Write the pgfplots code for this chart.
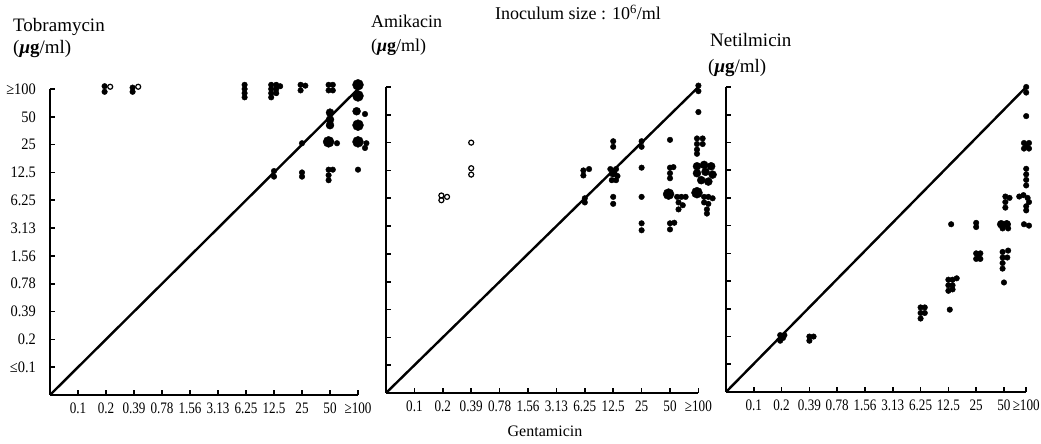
\documentclass[border=0pt]{standalone}
\usepackage{fontspec}
\setmainfont{Liberation Serif}
\usepackage{pgfplots}
\pgfplotsset{compat=1.18}

% narrow tick labels, as in the scanned figure
\newcommand{\tl}[1]{\scalebox{0.82}[1]{#1}}
\newcommand{\yl}[1]{\scalebox{0.9}[1]{#1}}
\newcommand{\ug}{(\textbf{\textit{μ}g}/ml)}

\pgfplotsset{
  mic/.style={
    scale only axis, anchor=south west,
    xmin=0, ymin=0, ymax=11,
    axis x line*=bottom, axis y line*=left,
    axis line style={line width=2.3pt},
    tick align=inside, major tick length=5pt,
    tick style={line width=1.6pt, black},
    ytick={1,...,11},
    xticklabel style={font=\fontsize{16}{16}\selectfont, anchor=north, inner sep=0pt, yshift=-8pt},
    yticklabel=\empty,
    clip=false,
  },
  diag/.style={black, line width=2.4pt, no marks},
  dot/.style={only marks, mark=*, mark size=2.8pt, black, mark options={fill=black}},
  mid/.style={only marks, mark=*, mark size=4pt, black, mark options={fill=black}},
  big/.style={only marks, mark=*, mark size=5.5pt, black, mark options={fill=black}},
  ring/.style={only marks, mark=o, mark size=2.5pt, black, mark options={line width=1.2pt}},
}

\begin{document}
\begin{tikzpicture}
\useasboundingbox (0,0) rectangle (1041pt,444pt);

% ---------- Tobramycin ----------
\begin{axis}[mic, at={(50pt,49pt)}, width=308pt, height=306pt, xmax=11,
  xtick={1,...,11},
  xticklabels={\tl{0.1},\tl{0.2},\tl{0.39},\tl{0.78},\tl{1.56},\tl{3.13},\tl{6.25},\tl{12.5},\tl{25},\tl{50},\tl{≥100}},
  yticklabels={\yl{≤0.1},\yl{0.2},\yl{0.39},\yl{0.78},\yl{1.56},\yl{3.13},\yl{6.25},\yl{12.5},\yl{25},\yl{50},\yl{≥100}},
  yticklabel style={font=\fontsize{16}{16}\selectfont, anchor=east, inner sep=0pt, xshift=-14pt},
]
\addplot[diag] coordinates {(0,0) (11,11)};
\addplot[dot] coordinates {
  (1.95,11.1) (1.95,10.9) (2.95,11.05) (2.95,10.9)
  (6.95,11.15) (6.95,11.0) (6.95,10.85) (6.95,10.7)
  (7.9,11.15) (7.9,11.0) (7.9,10.85) (7.9,10.7) (8.08,11.15) (8.08,11.0) (8.08,10.85) (8.22,11.1)
  (8.95,11.15) (8.95,10.95) (9.12,11.12)
  (9.95,11.15) (10.1,11.15) (9.95,10.95) (10.1,10.95)
  (9,9.05) (10.25,9.05) (11.3,9.05) (11.25,8.88)
  (8,8.05) (8,7.85) (9,8.0) (9,7.85)
  (9.95,8.1) (10.1,8.1) (9.95,7.9) (9.95,7.72) (11,8.1)
  (11.25,10.1)
};
\addplot[mid] coordinates {(10,10.15) (10,9.9) (10,9.7) (10.95,10.2)};
\addplot[big] coordinates {(11,11.15) (11,10.75) (11,9.7) (9.95,9.1) (11,9.1)};
\addplot[ring] coordinates {(2.15,11.08) (3.15,11.08)};
\end{axis}

% ---------- Amikacin ----------
\begin{axis}[mic, at={(386pt,51pt)}, width=312.4pt, height=306pt, xmax=11,
  xtick={1,...,11},
  xticklabels={\tl{0.1},\tl{0.2},\tl{0.39},\tl{0.78},\tl{1.56},\tl{3.13},\tl{6.25},\tl{12.5},\tl{25},\tl{50},\tl{≥100}},
]
\addplot[diag] coordinates {(0,0) (11,11)};
\addplot[dot] coordinates {
  (11,11.05) (11,10.85) (11,10.1)
  (8,9.05) (8,8.85) (9,9.05) (9,8.85) (10,9.1)
  (10.95,9.15) (11.15,9.15) (10.95,8.95) (11.15,8.95) (10.95,8.75) (10.95,8.6)
  (6.95,8.0) (7.15,8.05) (6.95,7.82)
  (7.9,8.05) (8.1,8.05) (8.15,7.8) (7.95,7.65) (8.1,7.65)
  (9,8.1) (10,8.1) (10,7.9) (10.12,8.12) (10,7.72)
  (7,7.0) (7,6.85) (8,7.05) (8,6.8) (9,7.05)
  (9,6.1) (9,5.85) (10,6.1) (10.15,6.12) (10,5.88)
  (10.25,7.05) (10.4,7.05) (10.55,7.05) (10.3,6.85) (10.45,6.75) (10.3,6.6)
  (11.2,7.05) (11.35,7.05) (11.5,7.0) (11.2,6.85) (11.35,6.8) (11.3,6.6) (11.3,6.45)
};
\addplot[mid] coordinates {
  (8.0,7.9)
  (10.95,8.15) (11.2,8.2) (11.45,8.15) (10.95,7.9) (11.25,7.95) (11.5,7.85) (11.1,7.65) (11.35,7.6)
};
\addplot[big] coordinates {(9.95,7.15) (10.95,7.2)};
\addplot[ring] coordinates {(3,9) (3,8.08) (3,7.85) (1.95,7.1) (1.95,6.93) (2.15,7.05)};
\end{axis}

% ---------- Netilmicin ----------
\begin{axis}[mic, at={(726pt,52pt)}, width=300.2pt, height=305pt, xmax=10.8,
  xtick={1,2,3,4,5,6,7,8,9,10,10.8},
  xticklabels={\tl{0.1},\tl{0.2},\tl{0.39},\tl{0.78},\tl{1.56},\tl{3.13},\tl{6.25},\tl{12.5},\tl{25},\tl{50},\tl{≥100}},
]
\addplot[diag] coordinates {(0,0) (10.8,11)};
\addplot[dot] coordinates {
  (10.8,11.0) (10.8,10.8) (10.8,9.95)
  (10.72,8.98) (10.9,8.98) (10.72,8.78) (10.9,8.78) (10.81,8.88)
  (10.8,8.05) (10.8,7.85) (10.8,7.65) (10.8,7.45)
  (10.05,7.05) (10.05,6.85) (10.05,6.65) (10.2,7.0)
  (10.55,7.05) (10.7,7.1) (10.85,7.0) (10.9,6.85) (10.8,6.7) (10.8,6.55)
  (8.1,6.05) (9,6.1) (9,5.95)
  (9.95,5.9) (10.15,5.9) (10.72,6.05) (10.9,6.0)
  (9.0,5.0) (9.15,5.0) (9.0,4.8) (9.15,4.8) (9.08,4.9)
  (9.95,5.05) (10.15,5.1) (9.95,4.85) (10.12,4.85) (9.95,4.65) (9.95,4.45)
  (10,3.95)
  (8.0,4.05) (8.15,4.05) (8.3,4.1) (8.0,3.85) (8.15,3.85) (8.0,3.65) (8.15,3.7)
  (8.05,2.97)
  (7.0,3.05) (7.15,3.05) (7.0,2.85) (7.15,2.85) (7.0,2.65)
  (1.95,2.05) (2.1,2.05) (1.95,1.85) (2.05,1.95)
  (3.0,2.0) (3.15,2.0) (3.0,1.85)
};
\addplot[mid] coordinates {(9.9,6.05) (10.1,6.05)};
\end{axis}

% ---------- titles ----------
\node[anchor=base west, inner sep=0pt, font=\fontsize{19}{19}\selectfont] at (13pt,412pt) {Tobramycin};
\node[anchor=base west, inner sep=0pt, font=\fontsize{19}{19}\selectfont] at (13pt,390pt) {\ug};
\node[anchor=base west, inner sep=0pt, font=\fontsize{18}{18}\selectfont] at (371pt,416pt) {Amikacin};
\node[anchor=base west, inner sep=0pt, font=\fontsize{18}{18}\selectfont] at (371pt,392pt) {\ug};
\node[anchor=base west, inner sep=0pt, font=\fontsize{18}{18}\selectfont] at (495pt,424pt) {Inoculum size : 10\textsuperscript{6}/ml};
\node[anchor=base west, inner sep=0pt, font=\fontsize{19}{19}\selectfont] at (710pt,397pt) {Netilmicin};
\node[anchor=base west, inner sep=0pt, font=\fontsize{19}{19}\selectfont] at (708pt,371pt) {\ug};
\node[anchor=base, inner sep=0pt, font=\fontsize{16}{16}\selectfont] at (545pt,7pt) {Gentamicin};
\end{tikzpicture}
\end{document}
